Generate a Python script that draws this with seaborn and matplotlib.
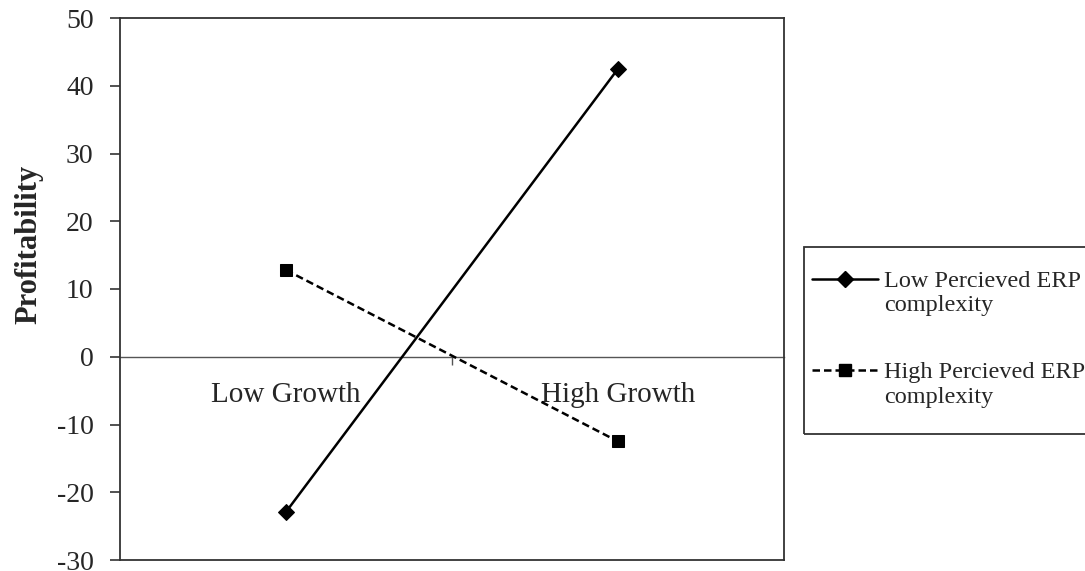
import pandas as pd
import matplotlib.pyplot as plt
import seaborn as sns
from matplotlib.lines import Line2D
from matplotlib.patches import Rectangle

# Values
categories = ['Low Growth', 'High Growth']
low_complexity = [-22.9, 42.5]
high_complexity = [12.8, -12.5]
series_names = ['Low Percieved ERP\ncomplexity', 'High Percieved ERP\ncomplexity']
y_ticks = [-30, -20, -10, 0, 10, 20, 30, 40, 50]

sns.set_style('white')
plt.rcParams['font.family'] = ['Liberation Serif', 'DejaVu Serif']
plt.rcParams['axes.unicode_minus'] = False

df = pd.DataFrame({
    'pos': [0, 1, 0, 1],
    'value': low_complexity + high_complexity,
    'series': [series_names[0]] * 2 + [series_names[1]] * 2,
})

fig = plt.figure(figsize=(10.85, 5.71), dpi=100)
ax = fig.add_axes([120 / 1085, 1 - 560 / 571, 664 / 1085, 542 / 571])

sns.lineplot(data=df, x='pos', y='value', hue='series', style='series',
             palette=['black', 'black'],
             markers={series_names[0]: 'D', series_names[1]: 's'},
             dashes={series_names[0]: '', series_names[1]: (3, 1.6)},
             linewidth=1.8, ax=ax, legend=False)
for line, ms in zip(ax.get_lines(), [8, 8.5]):
    line.set_markersize(ms)
    line.set_markeredgecolor('black')

ax.set_xlim(-0.5, 1.5)
ax.set_ylim(-30, 50)
ax.set_yticks(y_ticks)
ax.tick_params(axis='y', which='major', direction='out', length=7, width=1.2,
               left=True, labelsize=20, pad=12, color='#333333')
ax.set_xticks([])
ax.set_xlabel('')
ax.set_ylabel('Profitability', fontsize=22, fontweight='bold')
ax.yaxis.set_label_coords(-0.116, 0.582)
for sp in ax.spines.values():
    sp.set_color('#333333')
    sp.set_linewidth(1.3)

# category axis crossing at zero
sec = ax.secondary_xaxis(30 / 80)
sec.set_xticks([0, 1])
sec.set_xticklabels(categories, fontsize=21)
sec.set_xticks([0.5], minor=True)
sec.tick_params(axis='x', which='major', length=0, pad=18)
sec.tick_params(axis='x', which='minor', length=6, width=1, direction='out', color='#555555')
sec.spines['bottom'].set_color('#555555')
sec.spines['bottom'].set_linewidth(1.0)

# legend box (runs off the right edge like the original)
fig.patches.append(Rectangle((804 / 1085, 1 - 434 / 571), 300 / 1085, 187 / 571,
                             transform=fig.transFigure, fill=False,
                             edgecolor='#333333', linewidth=1.3))
handles = [
    Line2D([], [], color='black', lw=1.8, marker='D', markersize=8),
    Line2D([], [], color='black', lw=1.8, ls=(0, (3, 1.6)), marker='s', markersize=8.5),
]
leg = fig.legend(handles, series_names, loc='upper left',
                 bbox_to_anchor=(812 / 1085, 1 - 271 / 571),
                 fontsize=17.5, frameon=False, handlelength=2.7,
                 handletextpad=0.25, labelspacing=1.9, borderpad=0,
                 borderaxespad=0)
# put the handle level with the first text line, as in the original
for h in leg.legend_handles:
    h.set_ydata([v + 10.5 for v in h.get_ydata()])

fig.savefig('out.png', dpi=100)
